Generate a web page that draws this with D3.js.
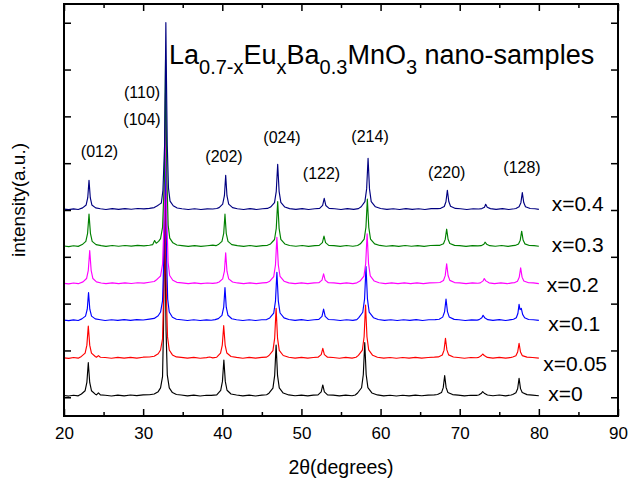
<!DOCTYPE html>
<html><head><meta charset="utf-8">
<script src="https://cdn.jsdelivr.net/npm/d3@7"></script>
<style>body{margin:0;background:#fff}svg{display:block}</style>
</head><body>
<svg id="c" width="630" height="485"></svg>
<script>
// ---------- data ----------
const sampleLabels = ["x=0", "x=0.05", "x=0.1", "x=0.2", "x=0.3", "x=0.4"];
const seriesColors = ["#000000", "#ff0000", "#0000ff", "#ff00ff", "#008000", "#000080"];
const offsets = [0, 800, 1600, 2400, 3200, 4000];
const xTicks = [20, 30, 40, 50, 60, 70, 80, 90];
const xMinorTicks = [25, 35, 45, 55, 65, 75, 85];
const yTicks = [0, 1000, 2000, 3000, 4000, 5000, 6000, 7000, 8000];

// [2theta, intensity] for each sample
const s0 = [[20,38],[20.6,26],[21.2,44],[21.8,30],
[22.2,69],[22.67,140],[22.89,316],[23.07,739],[23.25,316],[23.47,140],[23.95,67],
[24.1,52],[24.35,95],[24.6,50],
[25.2,44],[26,28],[26.8,46],[27.6,30],[28.4,48],[29.2,34],[30,50],[30.8,54],[31.4,70],
[31.9,120],[32.2,200],[32.45,440],[32.57,1450],[32.65,2800],[32.72,4092],[32.8,2800],[32.9,1400],[33.05,480],[33.3,200],[33.7,100],[34.2,60],
[34.8,48],[35.6,30],[36.4,46],[37.2,28],[38,44],[38.6,40],[39.3,52],
[39.8,148],[40.02,339],[40.2,797],[40.38,339],[40.6,150],[41.1,70],
[41.8,48],[42.6,30],[43.4,46],[44.2,28],[45,46],[45.6,54],
[45.9,88],[46.4,196],[46.62,467],[46.8,1117],[46.98,467],[47.2,200],[47.7,90],
[48.4,50],[49.2,32],[50,46],[50.8,30],[51.5,46],
[52.1,52],[52.5,114],[52.7,263],[52.9,114],[53.3,52],
[54,46],[54.8,30],[55.6,46],[56.4,32],[56.8,50],
[57.1,91],[57.6,204],[57.82,487],[58,1166],[58.18,487],[58.4,206],[58.9,92],
[59.6,50],[60.4,30],[61.2,44],[62,28],[62.8,44],[63.6,30],[64.4,46],[65.2,32],[66,46],[66.8,50],
[67.2,60],[67.7,100],[67.92,205],[68.1,461],[68.28,210],[68.5,104],[69.1,58],
[69.8,46],[70.6,30],[71.4,44],[72.1,40],
[72.4,48],[72.75,88],[72.9,119],[73.1,88],[73.5,48],
[74.2,32],[75,48],[75.8,30],[76.5,48],
[76.7,60],[77.1,96],[77.32,183],[77.5,406],[77.68,185],[77.9,100],[78.5,56],
[79.2,46],[80,32]];

const s005 = [[20,43],[20.6,31],[21.2,49],[21.8,35],
[22.2,73],[22.67,142],[22.89,313],[23.07,723],[23.25,313],[23.47,142],[23.95,72],
[24.1,55],[24.35,90],[24.6,54],
[25.2,49],[26,33],[26.8,51],[27.6,35],[28.4,53],[29.2,37],[30,56],[30.8,60],[31.4,76],
[31.9,130],[32.2,210],[32.45,450],[32.6,1460],[32.68,2810],[32.75,4097],[32.83,2810],[32.93,1410],[33.08,490],[33.3,210],[33.7,105],[34.2,62],
[34.8,52],[35.6,35],[36.4,51],[37.2,34],[38,48],[38.4,60],[38.8,42],[39.3,56],
[39.78,143],[40.0,315],[40.18,729],[40.36,315],[40.58,145],[41.1,72],
[41.8,51],[42.6,34],[43.4,52],[44.2,35],[45,52],[45.6,58],
[45.9,92],[46.4,198],[46.62,464],[46.8,1101],[46.98,464],[47.2,200],[47.7,92],
[48.4,54],[49.2,36],[50,52],[50.8,35],[51.5,50],
[52.1,56],[52.5,112],[52.7,246],[52.9,112],[53.3,56],
[54,50],[54.8,34],[55.6,52],[56.4,36],[56.9,54],
[57.2,96],[57.7,209],[57.92,492],[58.1,1171],[58.28,492],[58.5,211],[59.0,96],
[59.6,56],[60.4,36],[61.2,50],[62,34],[62.8,50],[63.6,35],[64.4,52],[65.2,36],[66,50],[66.8,56],
[67.3,62],[67.8,102],[68.02,207],[68.2,460],[68.38,212],[68.6,106],[69.2,60],
[69.8,50],[70.6,34],[71.4,50],[72.1,44],
[72.4,52],[72.75,92],[72.9,124],[73.1,92],[73.5,52],
[74.2,36],[75,52],[75.8,35],[76.5,52],
[76.7,60],[77.1,88],[77.32,165],[77.5,353],[77.68,167],[77.9,90],[78.5,58],
[79.2,50],[80,36]];

const s01 = [[20,48],[20.6,36],[21.2,54],[21.8,40],
[22.25,74],[22.72,133],[22.94,281],[23.1,636],[23.26,281],[23.48,133],[23.95,74],
[24.6,56],[25.2,40],[26,56],[26.8,42],[27.6,58],[28.4,44],[29.2,60],[30,50],[30.8,70],[31.4,84],
[31.9,140],[32.2,220],[32.45,460],[32.63,1470],[32.71,2820],[32.78,4102],[32.86,2820],[32.96,1420],[33.1,500],[33.3,220],[33.7,110],[34.2,66],
[34.8,56],[35.6,40],[36.4,56],[37.2,40],[38,54],[38.6,46],[39.1,58],
[39.5,79],[39.96,149],[40.18,323],[40.34,742],[40.5,323],[40.72,151],[41.2,78],
[41.8,56],[42.6,40],[43.4,56],[44.2,40],[45,56],[45.6,60],
[46.0,95],[46.5,198],[46.72,454],[46.9,1069],[47.08,454],[47.3,200],[47.8,95],
[48.4,60],[49.2,42],[50,58],[50.8,40],[51.6,56],
[52.2,63],[52.6,128],[52.8,285],[53.0,128],[53.4,62],
[54.1,56],[54.9,40],[55.7,56],[56.5,42],[57.0,58],
[57.25,101],[57.75,216],[57.98,503],[58.16,1191],[58.34,503],[58.56,218],[59.1,100],
[59.7,62],[60.5,42],[61.3,56],[62.1,40],[62.9,56],[63.7,42],[64.5,58],[65.3,40],[66.1,56],[66.9,60],
[67.4,67],[67.85,112],[68.09,226],[68.27,499],[68.45,230],[68.67,116],[69.3,64],
[69.9,56],[70.7,40],[71.5,54],[72.2,48],
[72.45,58],[72.8,100],[72.95,151],[73.15,100],[73.55,58],
[74.2,42],[75,58],[75.8,40],[76.5,58],
[76.8,66],[77.15,100],[77.35,190],[77.5,386],[77.62,270],[77.78,300],[77.95,170],[78.2,100],[78.7,62],
[79.3,56],[80,42]];

const s02 = [[20,34],[20.6,22],[21.2,40],[21.8,26],
[22.4,65],[22.85,136],[23.07,312],[23.25,735],[23.43,312],[23.65,136],[24.1,64],
[24.7,42],[25.3,26],[26.1,44],[26.9,28],[27.7,44],[28.5,30],[29.3,46],[30.1,38],[30.8,56],[31.4,72],
[31.7,110],[31.95,150],[32.2,190],[32.45,440],[32.67,1460],[32.75,2810],[32.82,4088],[32.9,2810],[33.0,1410],[33.15,490],[33.35,200],[33.75,100],[34.25,55],
[34.9,42],[35.7,26],[36.5,42],[37.3,26],[38.1,40],[38.8,34],[39.3,44],
[39.6,63],[40.05,128],[40.27,292],[40.43,686],[40.59,292],[40.81,130],[41.3,62],
[41.9,42],[42.7,26],[43.5,44],[44.3,26],[45.1,42],[45.6,48],
[46.0,79],[46.5,178],[46.72,426],[46.9,1019],[47.08,426],[47.3,180],[47.8,79],
[48.4,44],[49.2,28],[50,44],[50.8,26],[51.6,42],
[52.2,47],[52.6,102],[52.8,237],[53.0,102],[53.4,47],
[54.1,42],[54.9,26],[55.7,44],[56.5,28],[57.0,44],
[57.4,83],[57.9,189],[58.12,455],[58.3,1092],[58.48,455],[58.7,191],[59.2,83],
[59.8,46],[60.6,28],[61.4,42],[62.2,26],[63,44],[63.8,28],[64.6,42],[65.4,26],[66.2,44],[67,46],
[67.5,52],[67.95,93],[68.17,198],[68.35,451],[68.53,202],[68.75,97],[69.35,50],
[70,42],[70.8,26],[71.6,42],[72.3,36],
[72.6,44],[72.95,86],[73.1,137],[73.3,86],[73.7,44],
[74.4,28],[75.2,44],[76,26],[76.6,44],
[76.9,47],[77.3,80],[77.52,164],[77.7,365],[77.88,166],[78.1,82],[78.7,46],
[79.3,42],[80,28]];

const s03 = [[20,31],[20.6,19],[21.2,37],[21.8,23],
[22.3,61],[22.76,130],[22.98,301],[23.16,711],[23.34,301],[23.56,130],[24.05,60],
[24.7,39],[25.3,23],[26.1,41],[26.9,25],[27.7,41],[28.5,27],[29.3,43],[30.1,35],[30.8,48],
[31.2,60],[31.45,147],[31.65,90],[31.95,130],[32.2,190],
[32.45,430],[32.68,1430],[32.76,2760],[32.83,4013],[32.91,2760],[33.01,1390],[33.16,480],[33.36,200],[33.76,98],[34.26,52],
[34.9,39],[35.7,23],[36.5,39],[37.3,23],[38.1,37],[38.8,50],[39.2,38],
[39.5,61],[39.96,130],[40.18,301],[40.34,711],[40.5,301],[40.72,130],[41.2,60],
[41.9,39],[42.7,23],[43.5,41],[44.3,23],[45.1,39],[45.7,45],
[46.1,75],[46.6,170],[46.82,408],[47.0,980],[47.18,408],[47.4,172],[47.9,75],
[48.5,41],[49.3,25],[50.1,41],[50.9,23],[51.7,39],
[52.25,45],[52.65,102],[52.85,241],[53.05,102],[53.45,45],
[54.1,39],[54.9,23],[55.7,41],[56.5,25],[57.1,41],
[57.45,77],[57.93,178],[58.15,429],[58.33,1031],[58.51,429],[58.73,180],[59.25,77],
[59.9,43],[60.7,25],[61.5,39],[62.3,23],[63.1,41],[63.9,25],[64.7,39],[65.5,23],[66.3,41],[67.1,43],
[67.5,45],[67.95,81],[68.17,172],[68.35,390],[68.53,175],[68.75,84],[69.35,44],
[70,39],[70.8,23],[71.6,39],[72.3,33],
[72.7,38],[73.05,70],[73.2,112],[73.4,70],[73.8,38],
[74.5,25],[75.3,41],[76.1,23],[76.7,39],
[77.0,43],[77.43,75],[77.65,155],[77.83,347],[78.01,157],[78.23,77],[78.8,42],
[79.4,39],[80,25]];

const s04 = [[20,19],[20.6,7],[21.2,25],[21.8,11],
[22.35,46],[22.8,108],[23.0,263],[23.16,634],[23.32,263],[23.52,108],[24.0,46],
[24.6,27],[25.3,11],[26.1,29],[26.9,13],[27.7,29],[28.5,15],[29.3,31],[30.1,23],[30.8,36],[31.4,52],
[31.8,90],[32.05,120],[32.3,150],
[32.5,420],[32.72,1420],[32.8,2750],[32.87,4001],[32.95,2750],[33.05,1380],[33.2,470],[33.4,190],[33.8,90],[34.3,42],
[34.9,27],[35.7,11],[36.5,27],[37.3,11],[38.1,25],[38.8,22],[39.3,32],
[39.6,51],[40.05,124],[40.27,305],[40.43,741],[40.59,305],[40.81,126],[41.3,50],
[41.9,27],[42.7,11],[43.5,29],[44.3,11],[45.1,27],[45.7,34],
[46.1,63],[46.6,159],[46.82,399],[47.0,976],[47.18,399],[47.4,161],[47.9,63],
[48.5,29],[49.3,13],[50.1,29],[50.9,11],[51.7,27],
[52.3,34],[52.68,97],[52.88,250],[53.08,97],[53.5,34],
[54.2,27],[55,11],[55.8,29],[56.6,13],[57.2,29],
[57.55,69],[58.02,178],[58.24,451],[58.42,1104],[58.6,451],[58.82,180],[59.35,69],
[60,31],[60.8,13],[61.6,27],[62.4,11],[63.2,29],[64,13],[64.8,27],[65.6,11],[66.4,29],[67.2,30],
[67.6,35],[68.05,76],[68.26,177],[68.44,421],[68.62,180],[68.84,80],[69.45,34],
[70.1,27],[70.9,11],[71.7,27],[72.4,21],
[72.8,30],[73.13,58],[73.28,122],[73.48,58],[73.88,30],
[74.6,13],[75.4,29],[76.2,11],[76.9,27],
[77.1,33],[77.5,68],[77.73,157],[77.91,370],[78.09,159],[78.31,70],[78.9,32],
[79.5,27],[80,13]];

const seriesData = [s0, s005, s01, s02, s03, s04];

// Miller index annotations: text, 2theta, intensity (plot units)
const peakLabelText = ["(012)", "(110)", "(104)", "(202)", "(024)", "(122)", "(214)", "(220)", "(128)"];
const peakLabelX = [24.49, 29.86, 29.86, 40.22, 47.55, 52.54, 58.67, 68.36, 77.87];
const peakLabelY = [5126, 6399, 5816, 5019, 5438, 4656, 5459, 4677, 4784];
// sample label anchors (2theta, intensity)
const sampleLabelX = [81.2, 80.57, 81.2, 81.0, 81.62, 81.62];
const sampleLabelY = [-73, 568, 1422, 2255, 3109, 3985];

// ---------- drawing ----------
const FONT = "'Liberation Sans', Arial, Helvetica, sans-serif";
const svg = d3.select("#c");
const x = d3.scaleLinear().domain([20, 90]).range([64, 618]);
const y = d3.scaleLinear().domain([-400, 8400]).range([416, 4]);

svg.append("defs").append("clipPath").attr("id", "clip")
  .append("rect").attr("x", 64).attr("y", 4).attr("width", 554).attr("height", 412);

const line = d3.line().x(d => x(d[0])).y(d => y(d[1]));
const g = svg.append("g").attr("clip-path", "url(#clip)");
seriesData.forEach((s, i) => {
  g.append("path")
    .datum(s.map(d => [d[0], d[1] + offsets[i]]))
    .attr("fill", "none")
    .attr("stroke", seriesColors[i])
    .attr("stroke-width", 1.15)
    .attr("stroke-linejoin", "round")
    .attr("d", line);
});

// axes (ticks inward)
function styleAxis(sel) {
  sel.selectAll(".domain").remove();
  sel.selectAll(".tick line").attr("stroke", "#000").attr("stroke-width", 1.5);
  sel.selectAll("text").attr("font-family", FONT).attr("font-size", 17).attr("fill", "#000");
}
svg.append("g").attr("transform", "translate(0,416)")
  .call(d3.axisBottom(x).tickValues(xTicks).tickSize(-7).tickPadding(11).tickFormat(d3.format("d")))
  .call(styleAxis);
svg.append("g").attr("transform", "translate(0,416)")
  .call(d3.axisBottom(x).tickValues(xMinorTicks).tickSize(-4).tickFormat(""))
  .call(styleAxis);
svg.append("g").attr("transform", "translate(0,4)")
  .call(d3.axisTop(x).tickValues(xTicks).tickSize(-7).tickFormat(""))
  .call(styleAxis);
svg.append("g").attr("transform", "translate(0,4)")
  .call(d3.axisTop(x).tickValues(xMinorTicks).tickSize(-4).tickFormat(""))
  .call(styleAxis);
svg.append("g").attr("transform", "translate(64,0)")
  .call(d3.axisLeft(y).tickValues(yTicks).tickSize(-7).tickFormat(""))
  .call(styleAxis);
svg.append("g").attr("transform", "translate(618,0)")
  .call(d3.axisRight(y).tickValues(yTicks).tickSize(-7).tickFormat(""))
  .call(styleAxis);

// frame
svg.append("rect").attr("x", 64).attr("y", 4).attr("width", 554).attr("height", 412)
  .attr("fill", "none").attr("stroke", "#000").attr("stroke-width", 2);

// axis titles
svg.append("text").attr("x", x(55)).attr("y", 474)
  .attr("text-anchor", "middle").attr("font-family", FONT).attr("font-size", 19.5)
  .text("2θ(degrees)");
svg.append("text").attr("transform", "translate(25,200) rotate(-90)")
  .attr("text-anchor", "middle").attr("font-family", FONT).attr("font-size", 19)
  .text("intensity(a.u.)");

// title with subscripts
const title = svg.append("text").attr("x", x(33.27)).attr("y", y(7112))
  .attr("font-family", FONT).attr("font-size", 27).attr("fill", "#000")
  .style("white-space", "pre");
const parts = [["La", 0], ["0.7-x", 1], ["Eu", 0], ["x", 1], ["Ba", 0], ["0.3", 1], ["MnO", 0], ["3", 1], [" nano-samples", 0]];
let prevSub = 0;
parts.forEach(([t, sub]) => {
  const ts = title.append("tspan").text(t);
  if (sub) ts.attr("font-size", 20);
  const dy = (sub - prevSub) * 10;
  if (dy) ts.attr("dy", dy);
  prevSub = sub;
});

// peak labels
peakLabelText.forEach((t, i) => {
  svg.append("text").attr("x", x(peakLabelX[i])).attr("y", y(peakLabelY[i]))
    .attr("text-anchor", "middle").attr("font-family", FONT).attr("font-size", 16)
    .text(t);
});

// sample labels
sampleLabels.forEach((t, i) => {
  svg.append("text").attr("x", x(sampleLabelX[i])).attr("y", y(sampleLabelY[i]))
    .attr("font-family", FONT).attr("font-size", 21)
    .text(t);
});
</script>
</body></html>
